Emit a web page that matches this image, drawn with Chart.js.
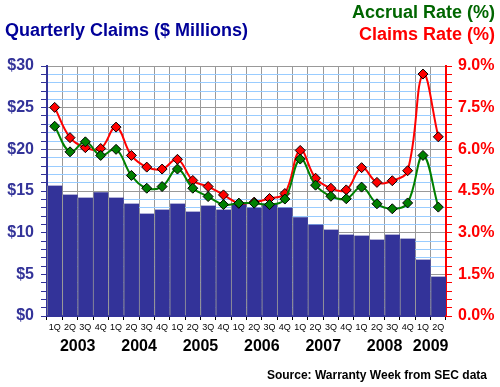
<!DOCTYPE html>
<html>
<head>
<meta charset="utf-8">
<script src="https://cdn.jsdelivr.net/npm/chart.js@4/dist/chart.umd.min.js"></script>
<style>
  html, body { margin: 0; padding: 0; background: #fff; }
</style>
</head>
<body>
<canvas id="claims-chart" width="500" height="387"></canvas>
<script>
var quarters = ["1Q", "2Q", "3Q", "4Q", "1Q", "2Q", "3Q", "4Q", "1Q", "2Q", "3Q", "4Q", "1Q",
                "2Q", "3Q", "4Q", "1Q", "2Q", "3Q", "4Q", "1Q", "2Q", "3Q", "4Q", "1Q", "2Q"];
var years = ["2003", "2004", "2005", "2006", "2007", "2008", "2009"];

// $ millions per quarter
var claims = [15.66, 14.58, 14.22, 14.86, 14.22, 13.5, 12.3, 12.78, 13.5, 12.54, 13.26, 12.78, 13.5,
              13.02, 13.5, 13.02, 11.86, 10.97, 10.37, 9.77, 9.65, 9.17, 9.77, 9.29, 6.77, 4.73];
// percent
var claimsRate = [7.51, 6.42, 6.06, 6.03, 6.8, 5.78, 5.36, 5.29, 5.64, 4.88, 4.66, 4.36, 4.06,
                  4.1, 4.23, 4.41, 5.96, 4.96, 4.6, 4.54, 5.34, 4.81, 4.87, 5.23, 8.71, 6.45];
var accrualRate = [6.83, 5.91, 6.27, 5.78, 6.0, 5.06, 4.6, 4.66, 5.29, 4.6, 4.3, 4.01, 4.06,
                   4.06, 4.01, 4.21, 5.65, 4.71, 4.31, 4.22, 4.64, 4.04, 3.86, 4.07, 5.78, 3.92];

var FONT = 'Arial, "Liberation Sans", sans-serif';
Chart.defaults.font.family = FONT;

// titles, year labels and source line
var textPlugin = {
    id: 'texts',
    afterDraw: function(chart) {
        var ctx = chart.ctx;
        var x = chart.scales.x;
        ctx.save();
        ctx.textBaseline = 'middle';
        ctx.font = 'bold 18px ' + FONT;
        ctx.textAlign = 'left';
        ctx.fillStyle = '#000099';
        ctx.fillText('Quarterly Claims ($ Millions)', 5, 31);
        ctx.textAlign = 'right';
        ctx.fillStyle = '#006600';
        ctx.fillText('Accrual Rate (%)', 495, 13);
        ctx.fillStyle = '#ff0000';
        ctx.fillText('Claims Rate (%)', 495, 35);

        ctx.font = 'bold 16px ' + FONT;
        ctx.textAlign = 'center';
        ctx.fillStyle = '#000';
        for (var i = 0; i < years.length; i++) {
            var first = i * 4;
            var last = Math.min(first + 3, quarters.length - 1);
            var cx = (x.getPixelForValue(first) + x.getPixelForValue(last)) / 2;
            ctx.fillText(years[i], cx, 347);
        }

        ctx.font = 'bold 12px ' + FONT;
        ctx.textAlign = 'right';
        ctx.fillText('Source: Warranty Week from SEC data', 487, 376);
        ctx.restore();
    }
};

function isMultiple(v, step) {
    return Math.abs(v / step - Math.round(v / step)) < 1e-6;
}

var chart = new Chart(document.getElementById('claims-chart'), {
    data: {
        labels: quarters,
        datasets: [{
            type: 'line',
            label: 'Accrual Rate (%)',
            data: accrualRate,
            yAxisID: 'y2',
            borderColor: '#008000',
            borderWidth: 2,
            tension: 0.4,
            pointStyle: 'rectRot',
            pointRadius: 5,
            pointBackgroundColor: '#008000',
            pointBorderColor: '#000',
            pointBorderWidth: 1,
            order: 1
        }, {
            type: 'line',
            label: 'Claims Rate (%)',
            data: claimsRate,
            yAxisID: 'y2',
            borderColor: '#ff0000',
            borderWidth: 2,
            tension: 0.4,
            pointStyle: 'rectRot',
            pointRadius: 5,
            pointBackgroundColor: '#ff0000',
            pointBorderColor: '#000',
            pointBorderWidth: 1,
            order: 2
        }, {
            type: 'bar',
            label: 'Quarterly Claims',
            data: claims,
            yAxisID: 'y',
            backgroundColor: '#333399',
            borderColor: '#999999',
            borderWidth: { left: 1, right: 0, top: 0, bottom: 0 },
            borderSkipped: false,
            categoryPercentage: 1,
            barPercentage: 1,
            order: 3
        }]
    },
    options: {
        responsive: false,
        animation: false,
        layout: { padding: { top: 66, left: 0, right: 0, bottom: 0 } },
        plugins: {
            legend: { display: false },
            tooltip: { enabled: false }
        },
        scales: {
            x: {
                offset: true,
                grid: {
                    offset: true,
                    color: '#999999',
                    tickColor: '#000',
                    tickLength: 4
                },
                border: { color: '#333399', width: 2 },
                ticks: {
                    autoSkip: false,
                    maxRotation: 0,
                    padding: 2,
                    color: '#000',
                    font: { size: 9 }
                },
                afterFit: function(s) { s.height = 71; }
            },
            y: {
                position: 'left',
                min: 0,
                max: 30,
                grid: {
                    color: function(c) { return isMultiple(c.tick.value, 5) ? '#999999' : '#99ccff'; },
                    tickColor: '#333399',
                    tickLength: 6
                },
                border: { color: '#333399', width: 2 },
                ticks: {
                    stepSize: 1,
                    autoSkip: false,
                    padding: 7,
                    color: '#333399',
                    font: { size: 16, weight: 'bold' },
                    callback: function(v) { return isMultiple(v, 5) ? '$' + v : ''; }
                },
                afterFit: function(s) { s.width = 47; }
            },
            y2: {
                position: 'right',
                min: 0,
                max: 9,
                grid: {
                    drawOnChartArea: false,
                    tickColor: '#ff0000',
                    tickLength: 6
                },
                border: { color: '#ff0000', width: 2 },
                ticks: {
                    stepSize: 0.3,
                    autoSkip: false,
                    padding: 6,
                    color: '#ff0000',
                    font: { size: 16, weight: 'bold' },
                    callback: function(v) { return isMultiple(v, 1.5) ? v.toFixed(1) + '%' : ''; }
                },
                afterFit: function(s) { s.width = 54; }
            }
        }
    },
    plugins: [textPlugin]
});
</script>
</body>
</html>
